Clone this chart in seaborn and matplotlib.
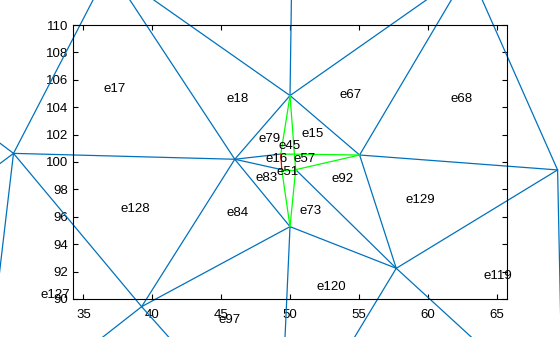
import matplotlib
matplotlib.use("Agg")
import matplotlib.pyplot as plt
import seaborn as sns
import pandas as pd

# ---- mesh nodes (data coordinates) ----
node_names = ["A", "B", "C", "D", "E", "F", "G", "H", "P", "Q", "R", "S",
              "T1", "T3", "T4", "T5", "T6", "T7", "L1", "L2"]
node_x = [29.93, 45.99, 50.00, 55.05, 50.00, 57.71, 39.23, 69.42, 49.33, 49.40, 50.41, 50.32,
          36.88, 62.99, 50.20, 27.55, 49.23, 69.80, 25.00, 25.00]
node_y = [100.63, 100.20, 104.85, 100.51, 95.28, 92.24, 89.44, 99.42, 100.58, 99.44, 99.44, 100.57,
          114.11, 114.01, 119.00, 80.24, 78.15, 81.10, 104.36, 96.90]

# ---- edges ----
blue_edges = [("A", "B"), ("A", "T1"), ("A", "L1"), ("A", "L2"), ("A", "T5"), ("A", "G"),
              ("B", "T1"), ("B", "C"), ("B", "P"), ("B", "Q"), ("B", "E"), ("B", "G"),
              ("C", "T1"), ("C", "T4"), ("C", "T3"), ("C", "D"),
              ("D", "T3"), ("D", "H"), ("D", "F"),
              ("E", "F"), ("E", "G"), ("E", "T6"), ("R", "F"),
              ("F", "H"), ("F", "T6"), ("F", "T7"),
              ("G", "T5"), ("G", "T6"), ("H", "T3"), ("H", "T7")]
green_edges = [("C", "P"), ("C", "S"), ("S", "R"), ("P", "S"), ("S", "D"), ("R", "D"),
               ("Q", "E"), ("R", "E"), ("Q", "R")]
red_edges = [("P", "Q")]

# ---- element labels ----
label_names = ["e17", "e18", "e67", "e68", "e79", "e45", "e15", "e16", "e57", "e83", "e51",
               "e92", "e73", "e129", "e128", "e84", "e120", "e119", "e127", "e97"]
label_x = [37.30, 46.19, 54.38, 62.42, 48.54, 50.00, 51.62, 49.01, 51.07, 48.33, 49.86,
           53.84, 51.48, 59.45, 38.75, 46.19, 53.00, 65.07, 32.95, 45.63]
label_y = [105.33, 104.60, 104.89, 104.60, 101.66, 101.19, 102.02, 100.20, 100.20, 98.81, 99.29,
           98.74, 96.45, 97.23, 96.57, 96.26, 90.85, 91.68, 90.29, 88.47]

x_ticks = [35, 40, 45, 50, 55, 60, 65]
y_ticks = [90, 92, 94, 96, 98, 100, 102, 104, 106, 108, 110]

sns.set_style("ticks")
plt.rcParams["font.family"] = ["Liberation Sans", "DejaVu Sans"]

nodes = {n: (x, y) for n, x, y in zip(node_names, node_x, node_y)}


def seg_frame(edges):
    rows = []
    for i, (a, b) in enumerate(edges):
        for k, n in enumerate((a, b)):
            rows.append({"edge": i, "order": k, "x": nodes[n][0], "y": nodes[n][1]})
    return pd.DataFrame(rows)


fig = plt.figure(figsize=(5.6, 3.37), dpi=100)
ax = fig.add_axes([0.1304, 0.1128, 0.7750, 0.8130])

for edges, col in [(blue_edges, "#0072BD"), (green_edges, "#00FF00"), (red_edges, "#FF0000")]:
    df = seg_frame(edges)
    sns.lineplot(data=df, x="x", y="y", units="edge", estimator=None, sort=False,
                 color=col, linewidth=0.9, ax=ax, legend=False)

for ln in ax.lines:
    ln.set_clip_on(False)

for name, x, y in zip(label_names, label_x, label_y):
    ax.text(x, y, name, ha="center", va="center", fontsize=9.5, color="black", clip_on=False)

ax.set_xlim(34.25, 65.75)
ax.set_ylim(90, 110)
ax.set_xticks(x_ticks)
ax.set_yticks(y_ticks)
ax.set_xlabel("")
ax.set_ylabel("")
ax.tick_params(direction="in", top=True, right=True, length=3.5, width=0.8,
               labelsize=9.5, colors="black")
ax.tick_params(axis="x", pad=7.5)
ax.tick_params(axis="y", pad=3.5)
for sp in ax.spines.values():
    sp.set_visible(True)
    sp.set_color("black")
    sp.set_linewidth(0.8)

fig.savefig("out.png", dpi=100)
